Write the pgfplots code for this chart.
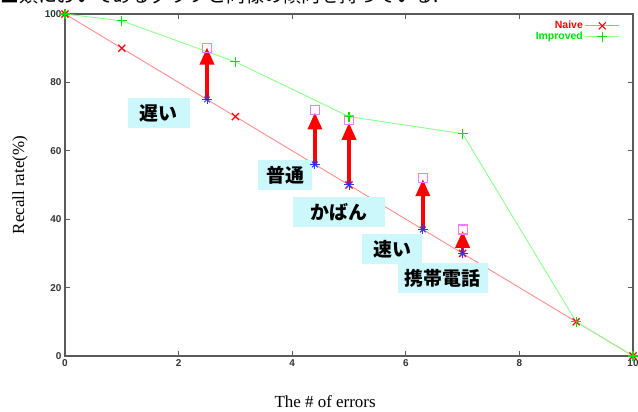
\documentclass[border=0pt]{standalone}
\usepackage{fontspec}
\setmainfont{Liberation Serif}
\setsansfont{Liberation Sans}
\newfontfamily\cjk{Noto Sans CJK JP}
\usepackage{pgfplots}
\pgfplotsset{compat=1.18}
\usetikzlibrary{arrows.meta}
\definecolor{axgray}{HTML}{5A5A5A}
\definecolor{tickgray}{HTML}{333333}
\definecolor{lblcyan}{HTML}{CCF7FB}
\definecolor{sqmag}{HTML}{EE80EE}
\definecolor{starblue}{HTML}{3030FF}
\definecolor{naiveline}{HTML}{FF8C8C}
\definecolor{impline}{HTML}{8CFF8C}
\definecolor{impmark}{HTML}{00E000}
\begin{document}
\begin{tikzpicture}
\useasboundingbox (-65bp,-56bp) rectangle (573bp,356bp);
\begin{axis}[
  at={(0,0)}, anchor=south west,
  scale only axis, width=568bp, height=342bp,
  xmin=0, xmax=10, ymin=0, ymax=100,
  xtick={0,2,...,10}, ytick={0,20,...,100},
  tick align=inside, major tick length=5bp,
  axis line style={axgray, line width=1.5bp},
  every tick/.style={axgray, line width=1bp},
  /pgf/number format/assume math mode=true,
  ticklabel style={font=\sffamily\bfseries\fontsize{10}{10}\selectfont, text=tickgray},
  xlabel={The \# of errors},
  ylabel={Recall rate(\%)},
  label style={font=\fontsize{17}{17}\selectfont},
  xlabel style={at={(axis description cs:0.458,-0.132)}, anchor=center},
  ylabel style={at={(axis description cs:-0.079,0.5)}, anchor=center},
  legend style={at={(axis description cs:0.977,0.985)}, anchor=north east,
    draw=none, fill=none, font=\sffamily\bfseries\fontsize{10.5}{10.5}\selectfont,
    row sep=-2bp, inner sep=0pt},
  legend cell align=right,
  legend plot pos=right,
  legend image code/.code={\draw[mark repeat=2,mark phase=2,#1] plot coordinates {(0bp,0bp) (17bp,0bp) (34bp,0bp)};},
]
\addplot[color=naiveline, line width=0.9bp, mark=x, mark size=5bp, mark options={red, line width=1.1bp}]
  coordinates {(0,100) (1,90) (3,70) (5,50) (7,30) (9,10) (10,0)};
\addlegendentry{\textcolor{red}{Naive}}
\addplot[color=impline, line width=0.9bp, mark=+, mark size=5bp, mark options={impmark, line width=1.1bp}]
  coordinates {(0,100) (1,98) (3,86) (5,70) (7,65) (9,10) (10,0)};
\addlegendentry{\textcolor{impmark}{Improved}}
\addplot[forget plot, red, line width=3.5bp, -{Triangle[width=14bp,length=17bp]},
  quiver={u=0, v=\thisrow{dy}}]
  table {
x y dy
2.5 75 15.2
4.4 56 15.2
5.0 50 18.2
6.3 37 14.7
7.0 30 6.6
};
\addplot[forget plot, only marks, mark=square, mark size=4.5bp, mark options={sqmag, line width=1.1bp}]
  coordinates {(2.5,90) (4.4,72) (5,69) (6.3,52) (7,37)};
\addplot[forget plot, only marks, mark=+, mark size=5bp, mark options={starblue, line width=1bp}]
  coordinates {(2.5,75) (4.4,56) (5,50) (6.3,37) (7,30)};
\addplot[forget plot, only marks, mark=x, mark size=4bp, mark options={starblue, line width=1bp}]
  coordinates {(2.5,75) (4.4,56) (5,50) (6.3,37) (7,30)};
\begin{scope}[every node/.style={fill=lblcyan, font=\cjk\bfseries\fontsize{19}{19}\selectfont, minimum height=30bp, inner sep=0pt}]
\node[minimum width=62bp] at (axis cs:1.65,71) {遅い};
\node[minimum width=54bp] at (axis cs:3.88,52.9) {普通};
\node[minimum width=92bp] at (axis cs:4.82,42.1) {かばん};
\node[minimum width=60bp] at (axis cs:5.76,31.3) {速い};
\node[minimum width=90bp] at (axis cs:6.65,22.7) {携帯電話};
\end{scope}
\end{axis}
\node[anchor=base west, inner sep=0pt, font=\cjk\fontsize{19}{19}\selectfont] at (-65bp,353.5bp) {■類においてあるグラフと同様の傾向を持っている.};
\end{tikzpicture}
\end{document}
